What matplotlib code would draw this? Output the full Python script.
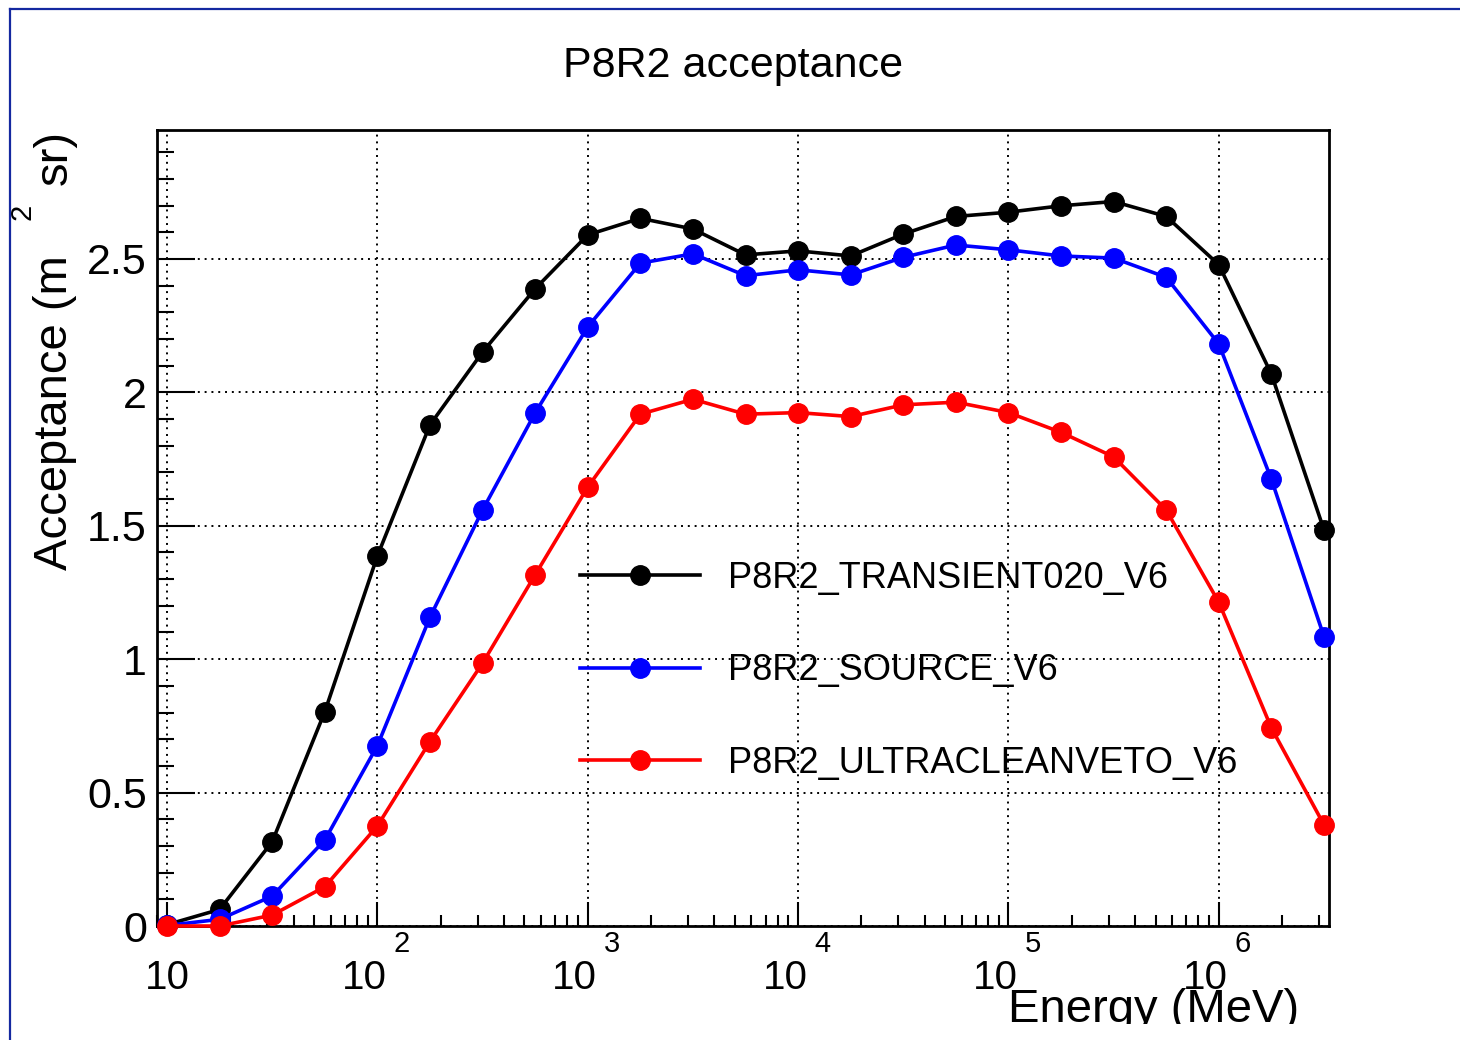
import matplotlib.pyplot as plt
import matplotlib.transforms as mtransforms
from matplotlib.lines import Line2D
from matplotlib.patches import Rectangle
from matplotlib.ticker import FixedLocator, LogLocator, MultipleLocator, NullFormatter

plt.rcParams['font.family'] = ['Liberation Sans', 'DejaVu Sans']

# Energy bins (MeV), quarter-decade steps
energy = [10, 17.78, 31.62, 56.23, 100, 177.8, 316.2, 562.3, 1000, 1778, 3162, 5623,
          1e4, 17783, 31623, 56234, 1e5, 177828, 316228, 562341, 1e6, 1778279, 3162278]

# Acceptance (m^2 sr)
transient = [0.005, 0.062, 0.316, 0.803, 1.387, 1.878, 2.151, 2.388, 2.590, 2.652, 2.612, 2.515,
             2.530, 2.511, 2.593, 2.659, 2.675, 2.699, 2.715, 2.659, 2.478, 2.068, 1.484]
source = [0.002, 0.025, 0.112, 0.322, 0.676, 1.157, 1.559, 1.923, 2.245, 2.484, 2.519, 2.437,
          2.459, 2.440, 2.506, 2.552, 2.534, 2.511, 2.503, 2.431, 2.181, 1.674, 1.084]
ultraclean = [0.0, 0.0, 0.041, 0.147, 0.375, 0.691, 0.985, 1.316, 1.645, 1.918, 1.974, 1.918,
              1.924, 1.909, 1.953, 1.963, 1.924, 1.850, 1.758, 1.559, 1.213, 0.742, 0.379]

series_names = ['P8R2_TRANSIENT020_V6', 'P8R2_SOURCE_V6', 'P8R2_ULTRACLEANVETO_V6']
series_colors = ['black', 'blue', 'red']

x_decades = [1, 2, 3, 4, 5, 6]
y_ticks = [0, 0.5, 1, 1.5, 2, 2.5]
y_tick_labels = ['0', '0.5', '1', '1.5', '2', '2.5']

W, H = 1460, 1040
fig = plt.figure(figsize=(W / 100, H / 100), dpi=100)
ax = fig.add_axes([156.6 / W, 1 - 926 / H, (1329 - 156.6) / W, (926 - 130) / H])

for vals, name, col in zip([transient, source, ultraclean], series_names, series_colors):
    ax.plot(energy, vals, color=col, lw=2.6, marker='o', ms=14, label=name,
            clip_on=False, zorder=3)

ax.set_xscale('log')
ax.set_xlim(8.92, 3.34e6)
ax.set_ylim(0, 2.983)

ax.xaxis.set_major_locator(FixedLocator([10.0 ** d for d in x_decades]))
ax.xaxis.set_minor_locator(LogLocator(base=10, subs=[2, 3, 4, 5, 6, 7, 8, 9], numticks=20))
ax.xaxis.set_major_formatter(NullFormatter())
ax.xaxis.set_minor_formatter(NullFormatter())
ax.set_yticks(y_ticks)
ax.set_yticklabels(y_tick_labels)
ax.yaxis.set_minor_locator(MultipleLocator(0.1))

ax.tick_params(axis='x', which='major', direction='in', length=17, width=1.5, top=False)
ax.tick_params(axis='x', which='minor', direction='in', length=8, width=1.5, top=False)
ax.tick_params(axis='y', which='major', direction='in', length=27, width=1.5,
               right=False, labelsize=31, pad=7)
ax.tick_params(axis='y', which='minor', direction='in', length=12.5, width=1.5, right=False)

ax.grid(True, which='major', color='black', linestyle=(0, (1, 2.5)), linewidth=1.4)
for sp in ax.spines.values():
    sp.set_linewidth(2)

# x tick labels in ROOT style: 10 with a raised exponent
xtf = ax.get_xaxis_transform()
for d in x_decades:
    if d == 1:
        ax.text(10.0 ** d, 0, '10', fontsize=29, ha='center', va='baseline',
                transform=mtransforms.offset_copy(xtf, fig, x=0, y=-63, units='dots'))
    else:
        ax.text(10.0 ** d, 0, '10', fontsize=29, ha='center', va='baseline',
                transform=mtransforms.offset_copy(xtf, fig, x=-13, y=-63, units='dots'))
        ax.text(10.0 ** d, 0, str(d), fontsize=21, ha='center', va='baseline',
                transform=mtransforms.offset_copy(xtf, fig, x=24, y=-26, units='dots'))

# titles
fig.text(733 / W, 1 - 77 / H, 'P8R2 acceptance', fontsize=31, ha='center', va='baseline')
fig.text(1299 / W, 1 - 1022 / H, 'Energy (MeV)', fontsize=34, ha='right', va='baseline')
fig.text(55 / W, 1 - 570 / H, 'Acceptance (m', fontsize=34, rotation=90, ha='center', va='bottom')
fig.text(23 / W, 1 - 212 / H, '2', fontsize=21, rotation=90, ha='center', va='center')
fig.text(55 / W, 1 - 130 / H, 'sr)', fontsize=34, rotation=90, ha='center', va='top')

leg = ax.legend(loc='upper left', bbox_to_anchor=(580 / W, 1 - 561 / H),
                bbox_transform=fig.transFigure, frameon=False, fontsize=26,
                handlelength=3.32, handletextpad=0.78, labelspacing=1.59,
                borderpad=0, borderaxespad=0, numpoints=1)

# canvas cut at the bottom, and the blue frame of the screenshot
fig.add_artist(Rectangle((12 / W, 0), 1, 16 / H, transform=fig.transFigure,
                         facecolor='white', edgecolor='none', zorder=10))
frame_col = '#1428a0'
fig.add_artist(Line2D([9.5 / W, 9.5 / W], [0, 1 - 9.3 / H], transform=fig.transFigure,
                      color=frame_col, lw=1.6, zorder=11))
fig.add_artist(Line2D([9.5 / W, 1], [1 - 9.3 / H, 1 - 9.3 / H], transform=fig.transFigure,
                      color=frame_col, lw=1.6, zorder=11))

fig.savefig('out.png', dpi=100)
